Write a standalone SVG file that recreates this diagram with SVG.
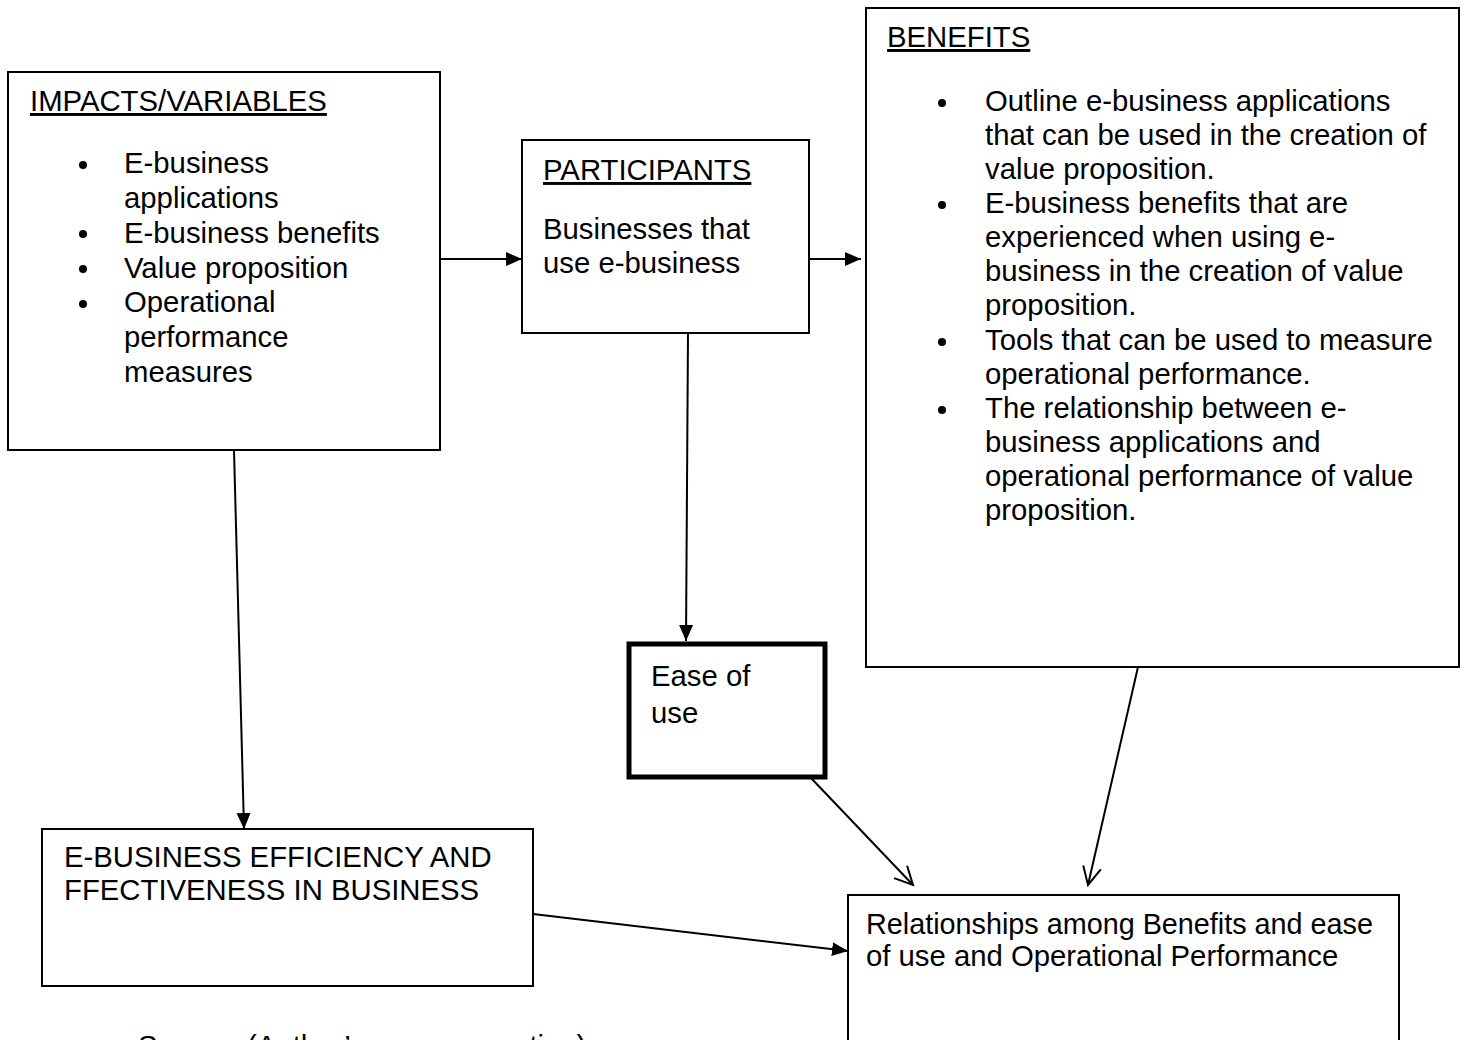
<svg xmlns="http://www.w3.org/2000/svg" width="1465" height="1040" viewBox="0 0 1465 1040">
  <defs>
    <style>
      .box { fill: #ffffff; stroke: #000000; stroke-width: 2; }
      .thick { stroke-width: 5; }
      .t { font-family: "Liberation Sans", Arial, sans-serif; font-size: 29.3px; fill: #000000; }
      .u { text-decoration: underline; }
      .dot { fill: #000000; }
      .link { fill: none; stroke: #000000; stroke-width: 2; }
    </style>
    <marker id="solid" markerUnits="userSpaceOnUse" markerWidth="18" markerHeight="16" refX="16" refY="8" orient="auto">
      <path d="M0,1 L16,8 L0,15 z" fill="#000000"/>
    </marker>
    <marker id="open" markerUnits="userSpaceOnUse" markerWidth="22" markerHeight="22" refX="19" refY="11" orient="auto">
      <path d="M1,2 L19,11 L1,20" fill="none" stroke="#000000" stroke-width="2"/>
    </marker>
  </defs>

  <rect width="1465" height="1040" fill="#ffffff"/>

  <!-- connectors -->
  <g id="connectors">
    <line class="link" x1="440" y1="259" x2="522" y2="259" marker-end="url(#solid)"/>
    <line class="link" x1="809" y1="259" x2="861" y2="259" marker-end="url(#solid)"/>
    <line class="link" x1="688" y1="333" x2="686" y2="641" marker-end="url(#solid)"/>
    <line class="link" x1="234" y1="450" x2="244" y2="829" marker-end="url(#solid)"/>
    <line class="link" x1="811" y1="778" x2="913" y2="885" marker-end="url(#open)"/>
    <line class="link" x1="1138" y1="667" x2="1088" y2="885" marker-end="url(#open)"/>
    <line class="link" x1="533" y1="914" x2="848" y2="951" marker-end="url(#solid)"/>
  </g>

  <!-- impacts / variables -->
  <g id="impacts">
    <rect class="box" x="8" y="72" width="432" height="378"/>
    <text class="t u" x="30" y="111">IMPACTS/VARIABLES</text>
    <circle class="dot" cx="83" cy="165" r="4"/>
    <circle class="dot" cx="83" cy="234" r="4"/>
    <circle class="dot" cx="83" cy="269" r="4"/>
    <circle class="dot" cx="83" cy="304" r="4"/>
    <text class="t" x="124" y="173">E-business</text>
    <text class="t" x="124" y="208">applications</text>
    <text class="t" x="124" y="242.5">E-business benefits</text>
    <text class="t" x="124" y="277.5">Value proposition</text>
    <text class="t" x="124" y="312">Operational</text>
    <text class="t" x="124" y="347">performance</text>
    <text class="t" x="124" y="381.5">measures</text>
  </g>

  <!-- participants -->
  <g id="participants">
    <rect class="box" x="522" y="140" width="287" height="193"/>
    <text class="t u" x="543" y="180">PARTICIPANTS</text>
    <text class="t" x="543" y="239">Businesses that</text>
    <text class="t" x="543" y="273">use e-business</text>
  </g>

  <!-- benefits -->
  <g id="benefits">
    <rect class="box" x="866" y="8" width="593" height="659"/>
    <text class="t u" x="887" y="47">BENEFITS</text>
    <circle class="dot" cx="942" cy="103" r="4"/>
    <circle class="dot" cx="942" cy="205" r="4"/>
    <circle class="dot" cx="942" cy="342" r="4"/>
    <circle class="dot" cx="942" cy="410" r="4"/>
    <text class="t" x="985" y="110.5">Outline e-business applications</text>
    <text class="t" x="985" y="144.5">that can be used in the creation of</text>
    <text class="t" x="985" y="178.5">value proposition.</text>
    <text class="t" x="985" y="212.5">E-business benefits that are</text>
    <text class="t" x="985" y="246.5">experienced when using e-</text>
    <text class="t" x="985" y="281">business in the creation of value</text>
    <text class="t" x="985" y="315">proposition.</text>
    <text class="t" x="985" y="349.5">Tools that can be used to measure</text>
    <text class="t" x="985" y="383.5">operational performance.</text>
    <text class="t" x="985" y="417.5">The relationship between e-</text>
    <text class="t" x="985" y="451.5">business applications and</text>
    <text class="t" x="985" y="485.5">operational performance of value</text>
    <text class="t" x="985" y="519.5">proposition.</text>
  </g>

  <!-- ease of use -->
  <g id="ease">
    <rect class="box thick" x="629" y="644" width="196" height="133"/>
    <text class="t" x="651" y="686">Ease of</text>
    <text class="t" x="651" y="723">use</text>
  </g>

  <!-- efficiency and effectiveness -->
  <g id="efficiency">
    <rect class="box" x="42" y="829" width="491" height="157"/>
    <text class="t" x="64" y="867">E-BUSINESS EFFICIENCY AND</text>
    <text class="t" x="64" y="900">FFECTIVENESS IN BUSINESS</text>
  </g>

  <!-- relationships -->
  <g id="relationships">
    <rect class="box" x="848" y="895" width="551" height="200"/>
    <text class="t" x="866" y="934" textLength="507" lengthAdjust="spacingAndGlyphs">Relationships among Benefits and ease</text>
    <text class="t" x="866" y="966">of use and Operational Performance</text>
  </g>

  <!-- source note, running off the lower edge of the page -->
  <text class="t" x="138" y="1056">Source: (Author’s own conception)</text>
</svg>
